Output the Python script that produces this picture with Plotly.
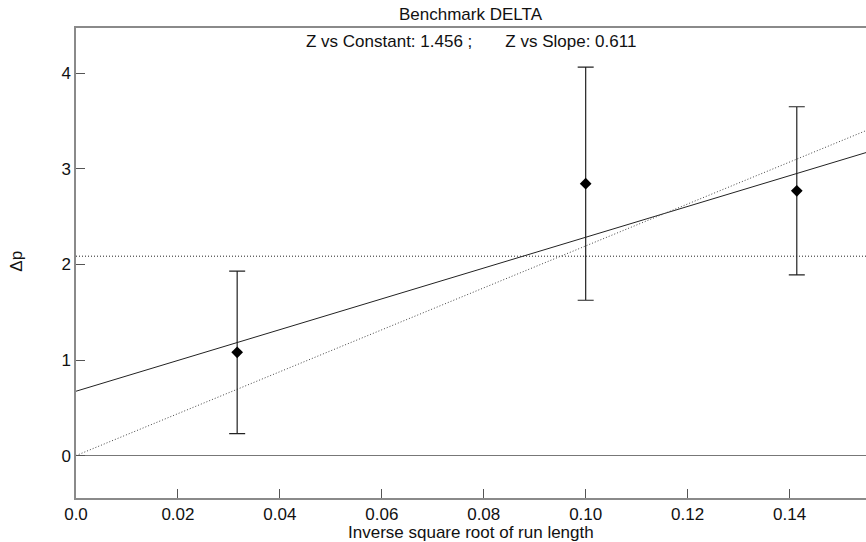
import numpy as np
import plotly.graph_objects as go

# Benchmark measurements: inverse square root of run length vs. delta p
run_lengths = [1000, 100, 50]
delta_p = [1.08, 2.845, 2.77]
delta_err = [0.85, 1.22, 0.88]

x_ticks = [0.0, 0.02, 0.04, 0.06, 0.08, 0.10, 0.12, 0.14]
x_tick_text = ["0.0", "0.02", "0.04", "0.06", "0.08", "0.10", "0.12", "0.14"]
y_ticks = [0, 1, 2, 3, 4]
y_tick_text = ["0", "1", "2", "3", "4"]

title_text = "Benchmark DELTA"
z_text = "Z vs Constant: 1.456 ;       Z vs Slope: 0.611"

x = 1.0 / np.sqrt(np.array(run_lengths, dtype=float))
y = np.array(delta_p)
s = np.array(delta_err)
w = 1.0 / s**2

# weighted fits: constant, straight line, and line through the origin
const = np.sum(w * y) / np.sum(w)
S, Sx, Sxx = w.sum(), (w * x).sum(), (w * x * x).sum()
Sy, Sxy = (w * y).sum(), (w * x * y).sum()
D = S * Sxx - Sx**2
slope = (S * Sxy - Sx * Sy) / D
icept = (Sxx * Sy - Sx * Sxy) / D
prop = Sxy / Sxx

x_max = 0.155
xl = np.array([0.0, x_max])

line_col = "#222222"
axis_col = "#8a8a8a"
font = dict(family="Liberation Sans, Arial, sans-serif", size=17, color="#111111")

fig = go.Figure()
fig.add_trace(go.Scatter(x=xl, y=[const, const], mode="lines",
                         line=dict(color=line_col, width=1, dash="1px,2px"), hoverinfo="skip"))
fig.add_trace(go.Scatter(x=xl, y=icept + slope * xl, mode="lines",
                         line=dict(color=line_col, width=1), hoverinfo="skip"))
fig.add_trace(go.Scatter(x=xl, y=prop * xl, mode="lines",
                         line=dict(color="#444444", width=1, dash="1px,2px"), hoverinfo="skip"))
fig.add_trace(go.Scatter(
    x=x, y=y, mode="markers",
    marker=dict(symbol="diamond", size=9, color="black"),
    error_y=dict(type="data", array=s, visible=True, color=line_col, thickness=1.2, width=8),
))

fig.update_layout(
    width=866, height=542,
    margin=dict(l=76, r=0, t=28, b=44),
    paper_bgcolor="white", plot_bgcolor="white",
    showlegend=False,
    font=font,
    xaxis=dict(range=[0, x_max], tickvals=x_ticks, ticktext=x_tick_text,
               ticks="inside", ticklen=9, tickcolor="#555555", tickwidth=1,
               showline=True, linecolor=axis_col, linewidth=1.5, mirror=True,
               showgrid=False, zeroline=False, tickfont=font),
    yaxis=dict(range=[-0.444, 4.474], tickvals=y_ticks, ticktext=y_tick_text,
               ticks="inside", ticklen=9, tickcolor="#555555", tickwidth=1,
               showline=True, linecolor=axis_col, linewidth=1.5,
               showgrid=False, zeroline=True, zerolinecolor="#777777", zerolinewidth=1.2,
               tickfont=font),
    annotations=[
        dict(text=title_text, xref="paper", yref="paper", x=0.5, y=1.0277,
             showarrow=False, font=font, yanchor="middle"),
        dict(text=z_text, xref="paper", yref="paper", x=0.5, y=0.9723,
             showarrow=False, font=font, yanchor="middle"),
        dict(text="Inverse square root of run length", xref="paper", yref="paper",
             x=0.5, y=-0.0735, showarrow=False, font=font, yanchor="middle"),
        dict(text="Δp", xref="paper", yref="paper", x=-0.0747, y=0.505,
             textangle=-90, showarrow=False, font=font, xanchor="center", yanchor="middle"),
    ],
)

fig.write_html("out.html")
